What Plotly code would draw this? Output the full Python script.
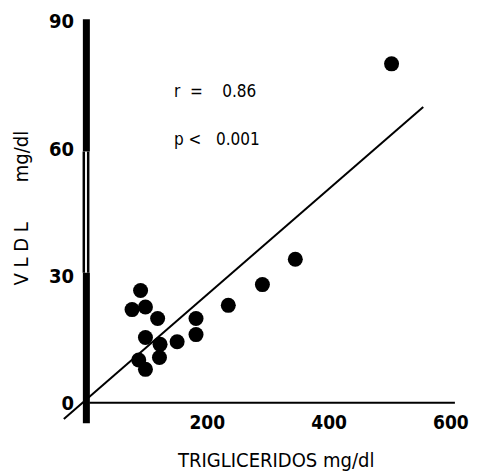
import plotly.graph_objects as go

# Data
trig = [84, 70, 92, 112, 92, 116, 144, 175, 175, 81, 92, 115, 228, 284, 338, 496]
vldl = [26.5, 22.0, 22.6, 19.9, 15.4, 13.8, 14.4, 19.9, 16.1, 10.1, 7.9, 10.7, 23.0, 27.9, 33.9, 80.0]

reg_intercept = 1.44
reg_slope = 0.1248
reg_x = [-42, 548]
reg_y = [reg_intercept + reg_slope * v for v in reg_x]

x_ticks = [200, 400, 600]
y_ticks = [0, 30, 60, 90]

COND = "DejaVu Sans Condensed, DejaVu Sans, sans-serif"
NB = "\u00a0"

# page body has an 8px margin; figure placed accordingly
OFF = 8
L, T, R = 62 - OFF, 10 - OFF, 16
W, H = 477 - OFF, 473 - OFF
PW, PH = W - L - R, 414
B = H - T - PH


def px(xp):
    return (xp - OFF - L) / PW


def py(yp):
    return 1 - (yp - OFF - T) / PH


fig = go.Figure()

# x axis line at y = 0
fig.add_trace(go.Scatter(x=[0, 600], y=[0, 0], mode="lines",
                         line=dict(color="black", width=2), hoverinfo="skip", showlegend=False))
# y axis: thick bar with a hollow (double) part between 30 and 60
axx = -5
for seg in ([-4.8, 30.7], [59.3, 90.5]):
    fig.add_trace(go.Scatter(x=[axx, axx], y=seg, mode="lines",
                             line=dict(color="black", width=7), hoverinfo="skip", showlegend=False))
for dx in (-4.2, 3.0):
    fig.add_trace(go.Scatter(x=[axx + dx, axx + dx], y=[30.7, 59.3], mode="lines",
                             line=dict(color="black", width=2.5), hoverinfo="skip", showlegend=False))

# regression line
fig.add_trace(go.Scatter(x=reg_x, y=reg_y, mode="lines",
                         line=dict(color="black", width=2), hoverinfo="skip", showlegend=False))
# points
fig.add_trace(go.Scatter(x=trig, y=vldl, mode="markers",
                         marker=dict(color="black", size=15), showlegend=False))

fig.update_layout(
    width=W, height=H,
    margin=dict(l=L, r=R, t=T, b=B),
    paper_bgcolor="white", plot_bgcolor="white",
    font=dict(family=COND, color="black", size=20),
    xaxis=dict(range=[-45, 610], showgrid=False, zeroline=False, showline=False,
               tickvals=x_ticks, ticktext=[str(v) for v in x_ticks], ticks="",
               ticklabelstandoff=-15, ticklabelshift=-4, ticklabeloverflow="allow",
               tickfont=dict(size=19, family=COND, weight="bold")),
    yaxis=dict(range=[-5, 92], showgrid=False, zeroline=False, showline=False,
               tickvals=y_ticks, ticktext=[str(v) for v in y_ticks], ticks="",
               ticklabelstandoff=-13, ticklabeloverflow="allow",
               tickfont=dict(size=20, family=COND, weight="bold")),
    annotations=[
        dict(text="r" + NB * 2 + "=" + NB * 4 + "0.86", xref="paper", yref="paper",
             x=px(172), y=py(89), xanchor="left", yanchor="middle",
             showarrow=False, font=dict(size=17, family=COND)),
        dict(text="p" + NB + "<" + NB * 3 + "0.001", xref="paper", yref="paper",
             x=px(172), y=py(137), xanchor="left", yanchor="middle",
             showarrow=False, font=dict(size=17, family=COND)),
        dict(text="TRIGLICERIDOS mg/dl", xref="paper", yref="paper",
             x=px(275), y=py(460), xanchor="center", yanchor="middle",
             showarrow=False, font=dict(size=20, family=COND)),
        dict(text="V" + NB + "L" + NB + "D" + NB + "L" + NB * 7 + "mg/dl", xref="paper", yref="paper",
             x=px(21), y=py(207), xanchor="center", yanchor="middle",
             textangle=-90, showarrow=False, font=dict(size=20, family=COND)),
    ],
)

fig.write_html("out.html")
